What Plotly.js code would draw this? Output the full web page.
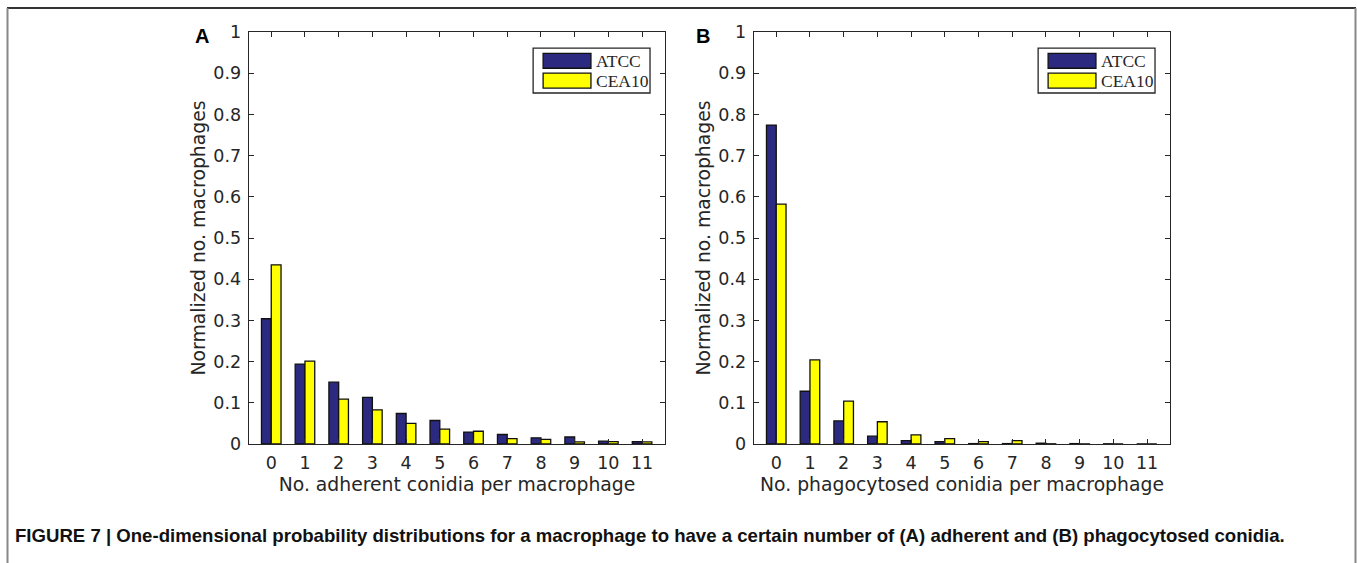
<!DOCTYPE html>
<html><head><meta charset="utf-8">
<script src="https://cdn.plot.ly/plotly-3.0.1.min.js"></script>
<style>html,body{margin:0;padding:0;background:#fff;overflow:hidden}#chart{width:1357px;height:563px}</style>
</head><body><div id="chart"></div><script>
// ---- data ----
const conidiaCounts = [0,1,2,3,4,5,6,7,8,9,10,11];
const seriesNames = ['ATCC','CEA10'];
const adherentATCC  = [0.304,0.194,0.150,0.113,0.074,0.057,0.029,0.023,0.015,0.017,0.007,0.006];
const adherentCEA10 = [0.435,0.201,0.109,0.083,0.050,0.036,0.031,0.013,0.011,0.005,0.006,0.005];
const phagoATCC     = [0.774,0.128,0.056,0.019,0.008,0.006,0.001,0.001,0.002,0.001,0.0005,0.0003];
const phagoCEA10    = [0.582,0.204,0.104,0.054,0.022,0.013,0.006,0.008,0.0005,0.0003,0,0];
const panelLetters = ['A','B'];
const xTitles = ['No. adherent conidia per macrophage','No. phagocytosed conidia per macrophage'];
const yTitle = 'Normalized no. macrophages';
const caption = 'FIGURE 7 | One-dimensional probability distributions for a macrophage to have a certain number of (A) adherent and (B) phagocytosed conidia.';
const colors = ['#2c2a80','#ffff00'];

// ---- layout geometry ----
const W = 1357, H = 563;
const M = {l:150, r:150, t:10, b:90};
const pw = W - M.l - M.r, ph = H - M.t - M.b;
const px = x => (x - M.l) / pw;           // pixel -> paper x
const py = y => (M.t + ph - y) / ph;      // pixel -> paper y
const ink = '#262626';
const tickFont = {family:'DejaVu Sans, Verdana, sans-serif', size:17.5, color:ink};
const titleFont = {family:'DejaVu Sans, Verdana, sans-serif', size:18.8, color:ink};

function bars(x, y, name, color, xa, ya){
  return {type:'bar', x:x, y:y, name:name, xaxis:xa, yaxis:ya, showlegend:false,
    marker:{color:color, line:{color:'#111', width:1.3}}, hoverinfo:'x+y+name'};
}
const data = [
  bars(conidiaCounts, adherentATCC, seriesNames[0], colors[0], 'x', 'y'),
  bars(conidiaCounts, adherentCEA10, seriesNames[1], colors[1], 'x', 'y'),
  bars(conidiaCounts, phagoATCC, seriesNames[0], colors[0], 'x2', 'y2'),
  bars(conidiaCounts, phagoCEA10, seriesNames[1], colors[1], 'x2', 'y2')
];

function xax(domain, anchor, title){
  return {domain:domain, anchor:anchor, range:[-0.66,11.68], tickvals:conidiaCounts,
    ticks:'inside', ticklen:5, tickwidth:1, tickcolor:ink, showline:true, linecolor:ink, linewidth:1.3,
    mirror:'ticks', showgrid:false, zeroline:false, tickfont:tickFont, ticklabelstandoff:3,
    title:{text:title, font:titleFont, standoff:5}, fixedrange:true};
}
function yax(domain, anchor){
  return {domain:domain, anchor:anchor, range:[0,1], dtick:0.1, tick0:0,
    ticks:'inside', ticklen:5, tickwidth:1, tickcolor:ink, showline:true, linecolor:ink, linewidth:1.3,
    mirror:'ticks', showgrid:false, zeroline:false, tickfont:tickFont, ticklabelstandoff:3,
    title:{text:yTitle, font:titleFont, standoff:2}, fixedrange:true};
}
const yDom = [py(444), py(32)];
const layout = {
  width:W, height:H, margin:M, paper_bgcolor:'#fff', plot_bgcolor:'#fff',
  barmode:'group', bargap:0.42, bargroupgap:0,
  xaxis: xax([px(249), px(665)], 'y', xTitles[0]),
  yaxis: yax(yDom, 'x'),
  xaxis2: xax([px(754), px(1170)], 'y2', xTitles[1]),
  yaxis2: yax(yDom, 'x2'),
  shapes:[], annotations:[]
};

// figure frame
layout.shapes.push({type:'line', xref:'paper', yref:'paper', x0:px(7), x1:px(1356), y0:py(8), y1:py(8), line:{color:'#333', width:2}});
layout.shapes.push({type:'line', xref:'paper', yref:'paper', x0:px(7.5), x1:px(7.5), y0:py(8), y1:py(580), line:{color:'#888', width:2}});
layout.shapes.push({type:'line', xref:'paper', yref:'paper', x0:px(1355.5), x1:px(1355.5), y0:py(8), y1:py(580), line:{color:'#888', width:2}});

// legends (drawn inside each axis domain)
[['x','y'],['x2','y2']].forEach(([xa,ya], i) => {
  const xr = xa + ' domain', yr = ya + ' domain';
  layout.shapes.push({type:'rect', xref:xr, yref:yr, x0:0.683, x1:0.964, y0:0.852, y1:0.961,
    line:{color:ink, width:1.3}, fillcolor:'#fff'});
  seriesNames.forEach((nm, k) => {
    const yc = k === 0 ? 0.930 : 0.882;
    layout.shapes.push({type:'rect', xref:xr, yref:yr, x0:0.707, x1:0.822, y0:yc-0.018, y1:yc+0.018,
      line:{color:'#111', width:1.3}, fillcolor:colors[k]});
    layout.annotations.push({text:nm, xref:xr, yref:yr, x:0.830, y:yc, xanchor:'left', yanchor:'middle',
      showarrow:false, font:{family:'Liberation Serif, Times New Roman, serif', size:17.5, color:ink}});
  });
  layout.annotations.push({text:'<b>'+panelLetters[i]+'</b>', xref:'paper', yref:'paper',
    x:px(i === 0 ? 202 : 703), y:py(36), xanchor:'center', yanchor:'middle', showarrow:false,
    font:{family:'Liberation Sans, Arial, sans-serif', size:20, color:'#000'}});
});

layout.annotations.push({text:'<b>'+caption+'</b>', xref:'paper', yref:'paper', x:px(13), y:py(535),
  xanchor:'left', yanchor:'middle', showarrow:false,
  font:{family:'Liberation Sans, Arial, sans-serif', size:18.6, color:'#111'}});

Plotly.newPlot('chart', data, layout, {displayModeBar:false, staticPlot:true});
</script></body></html>
